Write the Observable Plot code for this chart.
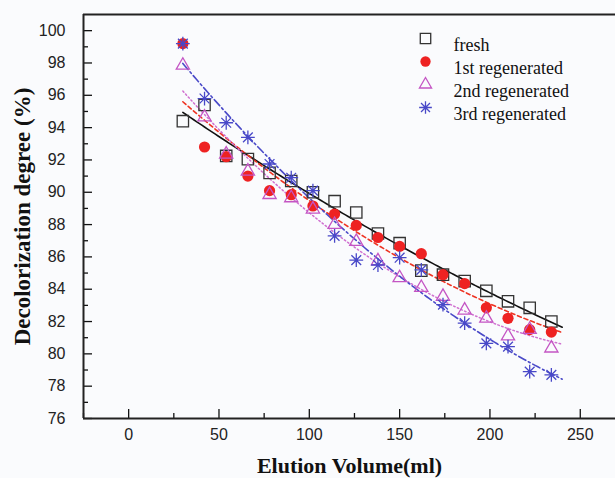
<!DOCTYPE html>
<html>
<head>
<meta charset="utf-8">
<script src="https://cdn.jsdelivr.net/npm/d3@7"></script>
<script src="https://cdn.jsdelivr.net/npm/@observablehq/plot@0.6"></script>
<style>
  html, body { margin: 0; padding: 0; background: #fafbfd; }
  #chart { width: 615px; height: 478px; overflow: hidden; }
</style>
</head>
<body>
<div id="chart"></div>
<script>
// ---- data ----
const volume   = [30, 42, 54, 66, 78, 90, 102, 114, 126, 138, 150, 162, 174, 186, 198, 210, 222, 234];
const fresh    = [94.4, 95.4, 92.25, 92.05, 91.2, 90.7, 90.0, 89.45, 88.75, 87.45, 86.85, 85.15, 84.9, 84.5, 83.9, 83.25, 82.85, 82.0];
const regen1   = [99.2, 92.8, 92.2, 91.0, 90.1, 89.85, 89.15, 88.65, 87.95, 87.2, 86.65, 86.2, 84.9, 84.35, 82.85, 82.2, 81.5, 81.35];
const regen2   = [97.85, 94.65, 92.35, 91.3, 89.85, 89.65, 88.95, 88.0, 86.95, 85.75, 84.7, 84.1, 83.55, 82.7, 82.2, 81.1, 81.5, 80.35];
const regen3   = [99.2, 95.8, 94.3, 93.4, 91.75, 90.9, 90.1, 87.3, 85.8, 85.5, 85.95, 85.2, 83.05, 81.9, 80.65, 80.45, 78.9, 78.7];
const seriesNames = ["fresh", "1st regenerated", "2nd regenerated", "3rd regenerated"];
const xTicks = [0, 50, 100, 150, 200, 250];
const xMinor = [-25, 25, 75, 125, 175, 225];
const yTicks = [76, 78, 80, 82, 84, 86, 88, 90, 92, 94, 96, 98, 100];
const yMinor = [77, 79, 81, 83, 85, 87, 89, 91, 93, 95, 97, 99];

// ---- styling ----
const W = 615, H = 478;
const mL = 83, mT = 14, mR = 0, mB = 60;
const plotW = W - mL - mR, plotH = H - mT - mB;

const asterisk8 = {
  draw(ctx, size) {
    const r = Math.sqrt(size / Math.PI) * 1.15;
    for (let k = 0; k < 4; k++) {
      const a = k * Math.PI / 4;
      const c = Math.cos(a) * r, s = Math.sin(a) * r;
      ctx.moveTo(-c, -s);
      ctx.lineTo(c, s);
    }
  }
};

const styles = [
  {values: fresh,  symbol: "square",   r: 6.4, fill: "none",    stroke: "#333333", line: "#111111", dash: null,        lw: 1.6},
  {values: regen1, symbol: "circle",   r: 5.6, fill: "#ee2222", stroke: "none",    line: "#ee3322", dash: "4,3",       lw: 1.6},
  {values: regen2, symbol: "triangle", r: 4.9, fill: "none",    stroke: "#c455c4", line: "#d070d0", dash: "1.5,2.5",   lw: 1.5},
  {values: regen3, symbol: asterisk8,  r: 6.0, fill: "none",    stroke: "#4848c8", line: "#4a4ac8", dash: "8,3,2,3",   lw: 1.6}
];

// quadratic least-squares fit of each series
function quadFit(xs, ys) {
  let S = [0,0,0,0,0], T = [0,0,0];
  xs.forEach((x, i) => {
    const y = ys[i];
    for (let p = 0; p < 5; p++) S[p] += Math.pow(x, p);
    for (let p = 0; p < 3; p++) T[p] += y * Math.pow(x, p);
  });
  const A = [[S[0], S[1], S[2], T[0]], [S[1], S[2], S[3], T[1]], [S[2], S[3], S[4], T[2]]];
  for (let i = 0; i < 3; i++) {
    for (let j = i + 1; j < 3; j++) {
      const f = A[j][i] / A[i][i];
      for (let k = i; k < 4; k++) A[j][k] -= f * A[i][k];
    }
  }
  const c = [0,0,0];
  for (let i = 2; i >= 0; i--) {
    let s = A[i][3];
    for (let k = i + 1; k < 3; k++) s -= A[i][k] * c[k];
    c[i] = s / A[i][i];
  }
  return x => c[0] + c[1] * x + c[2] * x * x;
}

const fitX = d3.range(30, 240.01, 1.5);
const marks = [];

styles.forEach((s, i) => {
  const f = quadFit(volume, s.values);
  const pts = fitX.map(x => ({x, y: f(x)}));
  marks.push(Plot.line(pts, {x: "x", y: "y", stroke: s.line, strokeWidth: s.lw, strokeDasharray: s.dash}));
});

styles.forEach((s, i) => {
  const pts = volume.map((v, j) => ({v, d: s.values[j]}));
  marks.push(Plot.dot(pts, {x: "v", y: "d", symbol: s.symbol, r: s.r, fill: s.fill, stroke: s.stroke, strokeWidth: 1.3}));
});

// legend inside the plot area
styles.forEach((s, i) => {
  marks.push(Plot.dot([seriesNames[i]], {frameAnchor: "top-left", dx: 342, dy: 24 + 23 * i, symbol: s.symbol, r: s.r * 0.92, fill: s.fill, stroke: s.stroke, strokeWidth: 1.3}));
  marks.push(Plot.text([seriesNames[i]], {frameAnchor: "top-left", dx: 370, dy: 24 + 23 * i, text: d => d, textAnchor: "start", fontFamily: "Liberation Serif, Times New Roman, serif", fontSize: 18, fill: "#111"}));
});

// ticks (inward)
marks.push(Plot.tickX(xTicks, {x: d => d, insetTop: plotH - 9, stroke: "#111", strokeWidth: 1.3}));
marks.push(Plot.tickX(xMinor, {x: d => d, insetTop: plotH - 5, stroke: "#111", strokeWidth: 1.3}));
marks.push(Plot.tickY(yTicks, {y: d => d, insetRight: plotW - 9, stroke: "#111", strokeWidth: 1.3}));
marks.push(Plot.tickY(yMinor, {y: d => d, insetRight: plotW - 5, stroke: "#111", strokeWidth: 1.3}));

// tick labels
marks.push(Plot.axisX(xTicks, {tickSize: 0, tickPadding: 10, fontSize: 16, fontFamily: "Liberation Sans, Arial, sans-serif", fill: "#222"}));
marks.push(Plot.axisY(yTicks, {tickSize: 0, tickPadding: 18, fontSize: 16, fontFamily: "Liberation Sans, Arial, sans-serif", fill: "#222"}));

// frame
marks.push(Plot.ruleY([76], {stroke: "#222", strokeWidth: 2}));
marks.push(Plot.ruleY([101], {stroke: "#222", strokeWidth: 2}));
marks.push(Plot.ruleX([-25], {stroke: "#222", strokeWidth: 2}));

// axis titles
marks.push(Plot.text(["Elution Volume(ml)"], {frameAnchor: "bottom", dy: 54, text: d => d, textAnchor: "middle", fontFamily: "Liberation Serif, Times New Roman, serif", fontWeight: "bold", fontSize: 22, fill: "#111"}));
marks.push(Plot.text(["Decolorization degree (%)"], {frameAnchor: "left", dx: -61, rotate: -90, text: d => d, textAnchor: "middle", fontFamily: "Liberation Serif, Times New Roman, serif", fontWeight: "bold", fontSize: 23, fill: "#111"}));

const chart = Plot.plot({
  width: W,
  height: H,
  marginLeft: mL,
  marginTop: mT,
  marginRight: mR,
  marginBottom: mB,
  x: {domain: [-25, 269.5], label: null},
  y: {domain: [76, 101], label: null},
  style: {background: "#fafbfd", overflow: "visible"},
  marks
});
document.getElementById("chart").appendChild(chart);
</script>
</body>
</html>
